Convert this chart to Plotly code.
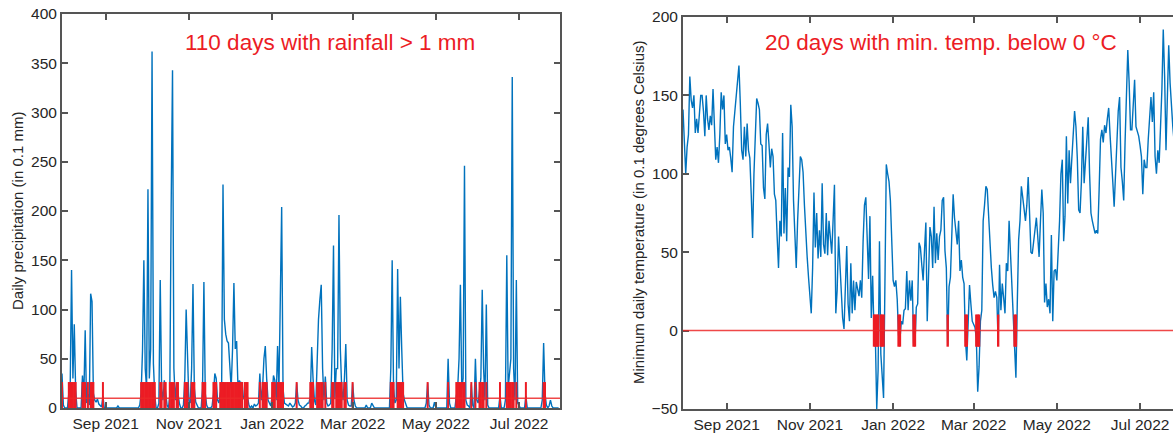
import plotly.graph_objects as go
import pandas as pd

# ---------------- data ----------------
start_date = "2021-07-31"

# daily precipitation (0.1 mm), one value per day
precip = [
    35, 3, 0, 0, 0, 15, 22, 140, 30, 85, 18, 0, 0, 0, 0, 33, 12, 79, 5, 14, 3, 116, 108, 15, 8, 6, 9, 4, 2, 1, 12,
    0, 0, 0, 0, 0, 0, 0, 0, 0, 0, 2, 0, 0, 0, 0, 0, 0, 0, 0, 0, 0, 0, 0, 0, 0, 0, 3, 15, 58, 150,
    40, 20, 222, 30, 60, 362, 45, 12, 0, 0, 5, 130, 20, 8, 28, 15, 3, 0, 12, 204, 343, 40, 8, 25, 12, 5, 0, 0, 3, 30, 100,
    60, 7, 5, 40, 126, 20, 6, 2, 0, 0, 0, 20, 128, 15, 3, 0, 0, 0, 2, 14, 35, 30, 8, 5, 15, 20, 227, 90, 75, 68,
    66, 40, 20, 60, 127, 60, 68, 20, 28, 25, 26, 9, 12, 15, 11, 3, 0, 2, 0, 4, 2, 3, 5, 35, 8, 20, 50, 63, 30, 8, 5,
    2, 12, 33, 28, 8, 63, 20, 110, 204, 20, 5, 4, 3, 2, 5, 3, 1, 2, 5, 25, 8, 3, 2, 0, 0, 2, 3, 5, 5, 12, 62,
    30, 8, 3, 50, 90, 110, 125, 40, 8, 32, 5, 2, 3, 5, 60, 165, 9, 40, 40, 196, 60, 20, 8, 30, 65, 8, 3, 2,
    2, 25, 8, 2, 0, 0, 0, 0, 0, 0, 0, 3, 0, 0, 0, 5, 2, 0, 0, 0, 0, 0, 0, 0, 0, 0, 0, 0, 0, 40, 150,
    20, 5, 8, 141, 40, 113, 60, 15, 8, 3, 0, 0, 0, 0, 0, 0, 0, 0, 0, 0, 0, 0, 0, 0, 5, 25, 3, 0, 0, 0,
    6, 0, 0, 0, 0, 0, 0, 0, 0, 0, 50, 5, 0, 0, 0, 0, 12, 20, 50, 125, 20, 30, 246, 8, 3, 2, 0, 24, 3, 0, 50,
    8, 5, 15, 30, 120, 40, 8, 105, 3, 0, 0, 0, 0, 0, 0, 0, 0, 12, 0, 0, 0, 8, 155, 20, 32, 50, 336, 40, 8, 130,
    5, 3, 0, 0, 0, 0, 12, 0, 0, 0, 0, 0, 0, 0, 0, 0, 0, 0, 8, 66, 15, 3, 0, 2, 8, 2, 0, 0, 0, 0, 0,
]

# daily minimum temperature (0.1 degrees Celsius), one value per day
tmin = [
    141, 115, 100, 117, 125, 162, 147, 142, 150, 126, 135, 126, 140, 150, 150, 140, 124, 150, 135, 128, 137, 131, 154, 126, 109, 117, 107, 125, 152, 141, 150,
    119, 125, 115, 117, 110, 101, 130, 140, 152, 160, 169, 145, 115, 109, 130, 111, 132, 115, 110, 87, 59, 100, 124, 148, 145, 141, 119, 118, 91, 84,
    125, 132, 119, 104, 116, 111, 87, 83, 60, 40, 70, 60, 126, 62, 91, 57, 104, 98, 144, 130, 83, 65, 40, 70, 95, 111, 109, 101, 80, 60, 47,
    34, 20, 11, 40, 88, 53, 75, 46, 64, 47, 94, 55, 49, 75, 48, 70, 60, 49, 70, 93, 11, 26, 60, 40, 21, 8, 1, 30, 54, 17,
    6, 43, 11, 32, 13, 31, 25, 22, 32, 21, 57, 80, 85, 53, 33, 73, 8, 35, -2, -5, -50, -25, 57, -15, -30, -43, 30, 106, 100, 95, 83,
    60, 32, 28, 32, 20, -3, -6, 6, 4, 13, 14, 38, 13, 32, 19, 32, -8, -9, 15, 17, 56, 53, 42, 32, 51, 69, 6, 38, 66, 60, 40,
    79, 43, 62, 45, 60, 64, 83, 85, 51, 40, -9, 28, 34, 70, 87, 72, 65, 55, 70, 38, 45, 34, 30, -6, -19, 11, 29, 17,
    6, 4, 2, -5, -39, -23, 6, 13, 70, 80, 92, 90, 70, 49, 40, 29, 21, 25, 21, -8, 42, 13, 30, 21, 11, 43, 38, 70, 49, 30, 15,
    -10, -30, 17, 58, 70, 92, 85, 75, 70, 80, 98, 75, 50, 49, 58, 65, 72, 60, 47, 70, 90, 75, 18, 30, 15, 20, 11, 61, 6, 38,
    39, 32, 50, 70, 100, 109, 57, 73, 124, 81, 115, 94, 110, 125, 140, 130, 110, 77, 75, 95, 130, 94, 110, 120, 136, 100, 75, 70, 65, 62, 64,
    62, 90, 122, 128, 120, 131, 126, 135, 142, 125, 113, 95, 79, 100, 130, 140, 149, 104, 95, 83, 120, 160, 179, 158, 128, 128, 145, 160, 130, 127,
    124, 118, 111, 87, 109, 104, 104, 122, 135, 149, 133, 152, 111, 100, 115, 107, 130, 154, 192, 162, 115, 160, 182, 158, 140, 130, 120, 135, 125, 140, 130,
]

rain_threshold = 10
frost_threshold = 0

tick_dates = ["2021-09-01", "2021-11-01", "2022-01-01", "2022-03-01", "2022-05-01", "2022-07-01"]
tick_labels = ["Sep 2021", "Nov 2021", "Jan 2022", "Mar 2022", "May 2022", "Jul 2022"]
precip_ticks = [0, 50, 100, 150, 200, 250, 300, 350, 400]
temp_ticks = [-50, 0, 50, 100, 150, 200]

rain_text = "110 days with rainfall > 1 mm"
frost_text = "20 days with min. temp. below 0 \u00b0C"
ylabel_left = "Daily precipitation (in 0.1 mm)"
ylabel_right = "Minimum daily temperature (in 0.1 degrees Celsius)"

# ---------------- figure ----------------
W, H = 1173, 437
dates = pd.date_range(start_date, periods=len(precip), freq="D")
span_end = dates[0] + pd.Timedelta(days=365)

rain_days = [d for d, v in zip(dates, precip) if v > rain_threshold]
frost_days = [d for d, v in zip(dates, tmin) if v < frost_threshold]

BLUE = "#0072BD"
RED = "#ec1c24"
AX = "#555555"
FONT = "Arial, Liberation Sans, Helvetica, sans-serif"

fig = go.Figure()

fig.add_trace(go.Scatter(x=dates, y=precip, mode="lines",
                         line=dict(color=BLUE, width=1.4), xaxis="x", yaxis="y",
                         showlegend=False, hoverinfo="skip"))
fig.add_trace(go.Scatter(x=rain_days, y=[rain_threshold] * len(rain_days), mode="markers",
                         marker=dict(symbol="line-ns", size=23, line=dict(color=RED, width=2)),
                         xaxis="x", yaxis="y", showlegend=False, hoverinfo="skip"))

fig.add_trace(go.Scatter(x=dates, y=tmin, mode="lines",
                         line=dict(color=BLUE, width=1.4), xaxis="x2", yaxis="y2",
                         showlegend=False, hoverinfo="skip"))
fig.add_trace(go.Scatter(x=frost_days, y=[frost_threshold] * len(frost_days), mode="markers",
                         marker=dict(symbol="line-ns", size=23, line=dict(color=RED, width=2.4)),
                         xaxis="x2", yaxis="y2", showlegend=False, hoverinfo="skip"))

def px_x(p):
    return p / W

def px_y(p):
    return 1 - p / H

axis_common = dict(showline=True, linecolor=AX, linewidth=2, ticks="inside", ticklen=6,
                   tickwidth=2, tickcolor=AX, showgrid=False, zeroline=False,
                   tickfont=dict(family=FONT, size=15.5, color="#262626"), automargin=False)

right_end = dates[0] + pd.Timedelta(days=365 * (1173 - 683) / 498)

fig.update_layout(
    width=W, height=H,
    margin=dict(l=0, r=0, t=0, b=0),
    paper_bgcolor="white", plot_bgcolor="white",
    font=dict(family=FONT),
    xaxis=dict(domain=[px_x(62), px_x(560)], range=[dates[0], span_end], anchor="y",
               tickvals=tick_dates, ticktext=tick_labels, mirror="ticks", **axis_common),
    yaxis=dict(domain=[px_y(408), px_y(14)], range=[0, 400], anchor="x",
               tickvals=precip_ticks, mirror="ticks", **axis_common),
    xaxis2=dict(domain=[px_x(683), 1.0], range=[dates[0], right_end], anchor="y2",
                tickvals=tick_dates, ticktext=tick_labels, mirror="ticks", **axis_common),
    yaxis2=dict(domain=[px_y(409), px_y(17)], range=[-50, 200], anchor="x2",
                tickvals=temp_ticks, mirror=False, **axis_common),
    shapes=[
        dict(type="line", xref="x domain", yref="y", x0=0, x1=1, y0=rain_threshold, y1=rain_threshold,
             line=dict(color="rgba(236,40,40,0.85)", width=1.5), layer="above"),
        dict(type="line", xref="x2 domain", yref="y2", x0=0, x1=1, y0=frost_threshold, y1=frost_threshold,
             line=dict(color="rgba(236,40,40,0.85)", width=1.5), layer="above"),
    ],
    annotations=[
        dict(text=rain_text, xref="paper", yref="paper", x=px_x(330), y=px_y(42),
             xanchor="center", yanchor="middle",
             showarrow=False, font=dict(family=FONT, size=22.5, color=RED)),
        dict(text=frost_text, xref="paper", yref="paper", x=px_x(941), y=px_y(42),
             xanchor="center", yanchor="middle",
             showarrow=False, font=dict(family=FONT, size=22.5, color=RED)),
        dict(text=ylabel_left, xref="paper", yref="paper", x=px_x(17), y=px_y(211),
             xanchor="center", yanchor="middle",
             textangle=-90, showarrow=False, font=dict(family=FONT, size=15, color="#262626")),
        dict(text=ylabel_right, xref="paper", yref="paper", x=px_x(638), y=px_y(213),
             xanchor="center", yanchor="middle",
             textangle=-90, showarrow=False, font=dict(family=FONT, size=15, color="#262626")),
    ],
)

fig.write_html("out.html", config={"displayModeBar": False},
               post_script="document.body.style.margin='0';document.body.style.overflow='hidden';")
